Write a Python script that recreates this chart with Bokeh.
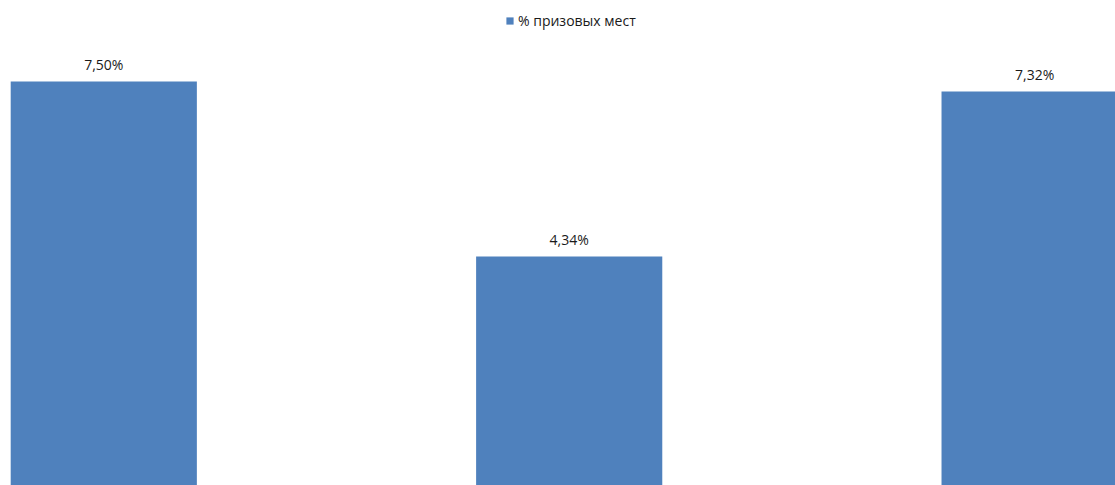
from bokeh.plotting import figure
from bokeh.models import ColumnDataSource, Range1d, Legend, LegendItem
from bokeh.embed import file_html
from bokeh.resources import INLINE
from bokeh.core.properties import value

categories = ["1", "2", "3"]
values = [7.50, 4.34, 7.32]
labels = ["7,50%", "4,34%", "7,32%"]
series_name = "% призовых мест"

x = list(range(len(categories)))
src = ColumnDataSource(data=dict(x=x, top=values, label=labels))

p = figure(width=1115, height=485, output_backend="svg", toolbar_location=None,
           x_range=Range1d(-0.2219, 2.1738), y_range=Range1d(0.204, 8.962),
           min_border=0, min_border_left=0, min_border_right=0,
           min_border_top=0, min_border_bottom=0)
p.xaxis.visible = False
p.yaxis.visible = False
p.xgrid.visible = False
p.ygrid.visible = False
p.outline_line_color = None
p.background_fill_color = "white"
p.border_fill_color = "white"

bars = p.vbar(x="x", top="top", bottom=0, width=0.4, source=src,
              fill_color="#4F81BD", line_color=None)

p.text(x="x", y="top", text="label", source=src, text_align="center",
       text_baseline="bottom", y_offset=-7, text_font=value("Open Sans"),
       text_font_size="14px", text_color="#1a1a1a")

legend = Legend(items=[LegendItem(label=series_name, renderers=[bars])],
                location=(505, 455), orientation="horizontal",
                padding=0, margin=0, border_line_color=None,
                background_fill_alpha=0, glyph_width=9, glyph_height=9,
                label_text_font="Open Sans", label_text_font_size="14px",
                label_text_color="#1a1a1a", label_standoff=4)
p.add_layout(legend)

open("out.html", "w").write(file_html(p, INLINE))
